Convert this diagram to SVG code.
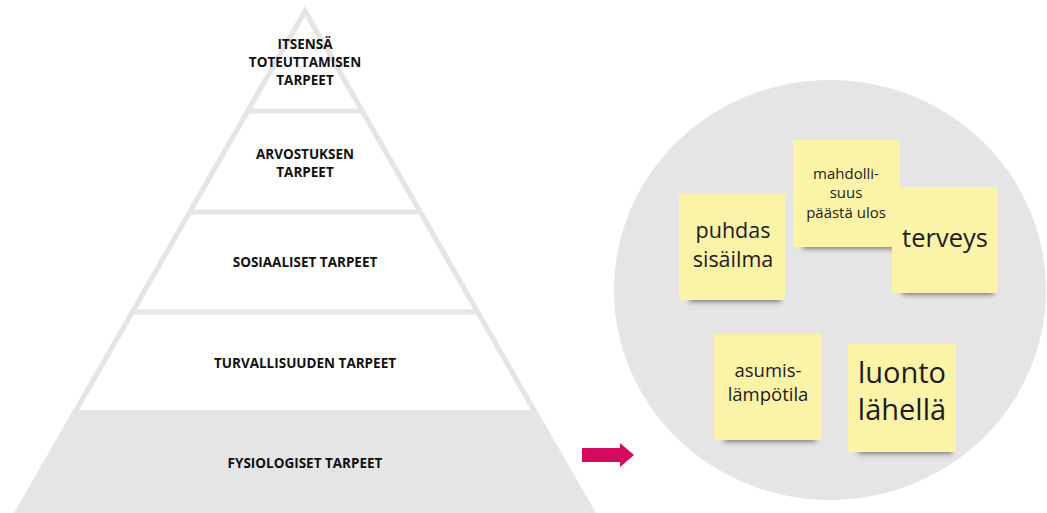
<svg xmlns="http://www.w3.org/2000/svg" width="1047" height="513" viewBox="0 0 1047 513">
  <style>
    .lvl { font-family: "Open Sans", "Liberation Sans", sans-serif; font-weight: 700; font-size: 13.5px; fill: #111; text-anchor: middle; }
    .band { fill: #ffffff; }
    .note { fill: #fbf3a7; }
    .ntxt { font-family: "Open Sans", "Noto Sans", sans-serif; fill: #1c1c1c; text-anchor: middle; }
    .shadow { fill: #2a2a2a; opacity: 0.55; filter: url(#soft); }
  </style>
  <defs>
    <filter id="soft" x="-20%" y="-100%" width="140%" height="300%">
      <feGaussianBlur stdDeviation="2.6"/>
    </filter>
  </defs>

  <rect width="1047" height="513" fill="#ffffff"/>

  <!-- pyramid frame: grey triangle, white bands cut out of it -->
  <polygon id="pyramid-frame" points="305,6 10,520 600,520" fill="#e5e5e5"/>

  <g id="level-self-actualisation">
    <polygon class="band" points="305,16.5 252.2,108.5 357.8,108.5"/>
    <text class="lvl" x="305" y="49">ITSENSÄ</text>
    <text class="lvl" x="305" y="67">TOTEUTTAMISEN</text>
    <text class="lvl" x="305" y="84.5">TARPEET</text>
  </g>

  <g id="level-esteem">
    <polygon class="band" points="249.3,113.5 360.7,113.5 415.8,209.5 194.2,209.5"/>
    <text class="lvl" x="305" y="159">ARVOSTUKSEN</text>
    <text class="lvl" x="305" y="176.5">TARPEET</text>
  </g>

  <g id="level-social">
    <polygon class="band" points="191.3,214.5 418.7,214.5 473.2,309.5 136.8,309.5"/>
    <text class="lvl" x="305" y="267">SOSIAALISET TARPEET</text>
  </g>

  <g id="level-safety">
    <polygon class="band" points="133.9,314.5 476.1,314.5 530.9,410 79.1,410"/>
    <text class="lvl" x="305" y="368">TURVALLISUUDEN TARPEET</text>
  </g>

  <g id="level-physiological">
    <text class="lvl" x="305" y="468">FYSIOLOGISET TARPEET</text>
  </g>

  <!-- connector -->
  <g id="connectors">
    <polygon points="582,448 620,448 620,443 634,455 620,467 620,462 582,462" fill="#d40a60"/>
  </g>

  <!-- board of notes -->
  <ellipse id="board" cx="830" cy="290" rx="216" ry="210" fill="#e5e5e5"/>

  <g id="note-puhdas">
    <rect class="shadow" x="689" y="290" width="92" height="12"/>
    <rect class="note" x="679" y="194" width="106" height="106"/>
    <text class="ntxt" font-size="21.5" x="733" y="238">puhdas</text>
    <text class="ntxt" font-size="21.5" x="733" y="267">sisäilma</text>
  </g>

  <g id="note-mahdollisuus">
    <rect class="shadow" x="803" y="237" width="93" height="12"/>
    <rect class="note" x="793" y="140" width="107" height="107"/>
    <text class="ntxt" font-size="15" x="846" y="179">mahdolli-</text>
    <text class="ntxt" font-size="15" x="846" y="198">suus</text>
    <text class="ntxt" font-size="15" x="846" y="218">päästä ulos</text>
  </g>

  <g id="note-terveys">
    <rect class="shadow" x="902" y="283" width="92" height="12"/>
    <rect class="note" x="892" y="187" width="106" height="106"/>
    <text class="ntxt" font-size="25.5" x="945" y="247">terveys</text>
  </g>

  <g id="note-asumis">
    <rect class="shadow" x="724" y="430" width="92" height="12"/>
    <rect class="note" x="714" y="334" width="107" height="106"/>
    <text class="ntxt" font-size="18.5" x="768" y="377">asumis-</text>
    <text class="ntxt" font-size="18.5" x="768" y="401">lämpötila</text>
  </g>

  <g id="note-luonto">
    <rect class="shadow" x="858" y="442" width="94" height="12"/>
    <rect class="note" x="848" y="344" width="108" height="108"/>
    <text class="ntxt" font-size="29" x="902" y="383">luonto</text>
    <text class="ntxt" font-size="29" x="902" y="420">lähellä</text>
  </g>
</svg>
